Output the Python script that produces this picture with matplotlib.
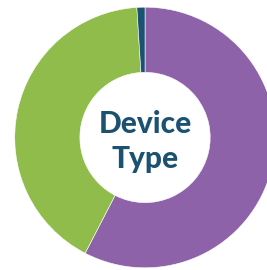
import matplotlib
matplotlib.use("Agg")
import matplotlib.pyplot as plt

categories = ["Mobile", "Desktop", "Tablet"]
shares = [57.6, 41.4, 1.0]
colors = ["#8E62A9", "#8FBC4A", "#1B5272"]
title_lines = ["Device", "Type"]

fig = plt.figure(figsize=(2.67, 2.70), dpi=100)
ax = fig.add_axes([0, 0, 1, 1])
ax.pie(shares, colors=colors, startangle=90, counterclock=False,
       radius=1.0, wedgeprops=dict(width=0.5, edgecolor="white", linewidth=0.4))
ax.set_xlim(-1.113, 0.936)
ax.set_ylim(-1.017, 1.055)
ax.set_aspect("auto")
ax.axis("off")

ax.text(0, 0.037, title_lines[0], ha="center", va="baseline", fontsize=21.5,
        fontweight="black", family="Lato", color="#1B5272")
ax.text(0, -0.234, title_lines[1], ha="center", va="baseline", fontsize=21.5,
        fontweight="black", family="Lato", color="#1B5272")

fig.savefig("out.png", dpi=100, facecolor="white")
